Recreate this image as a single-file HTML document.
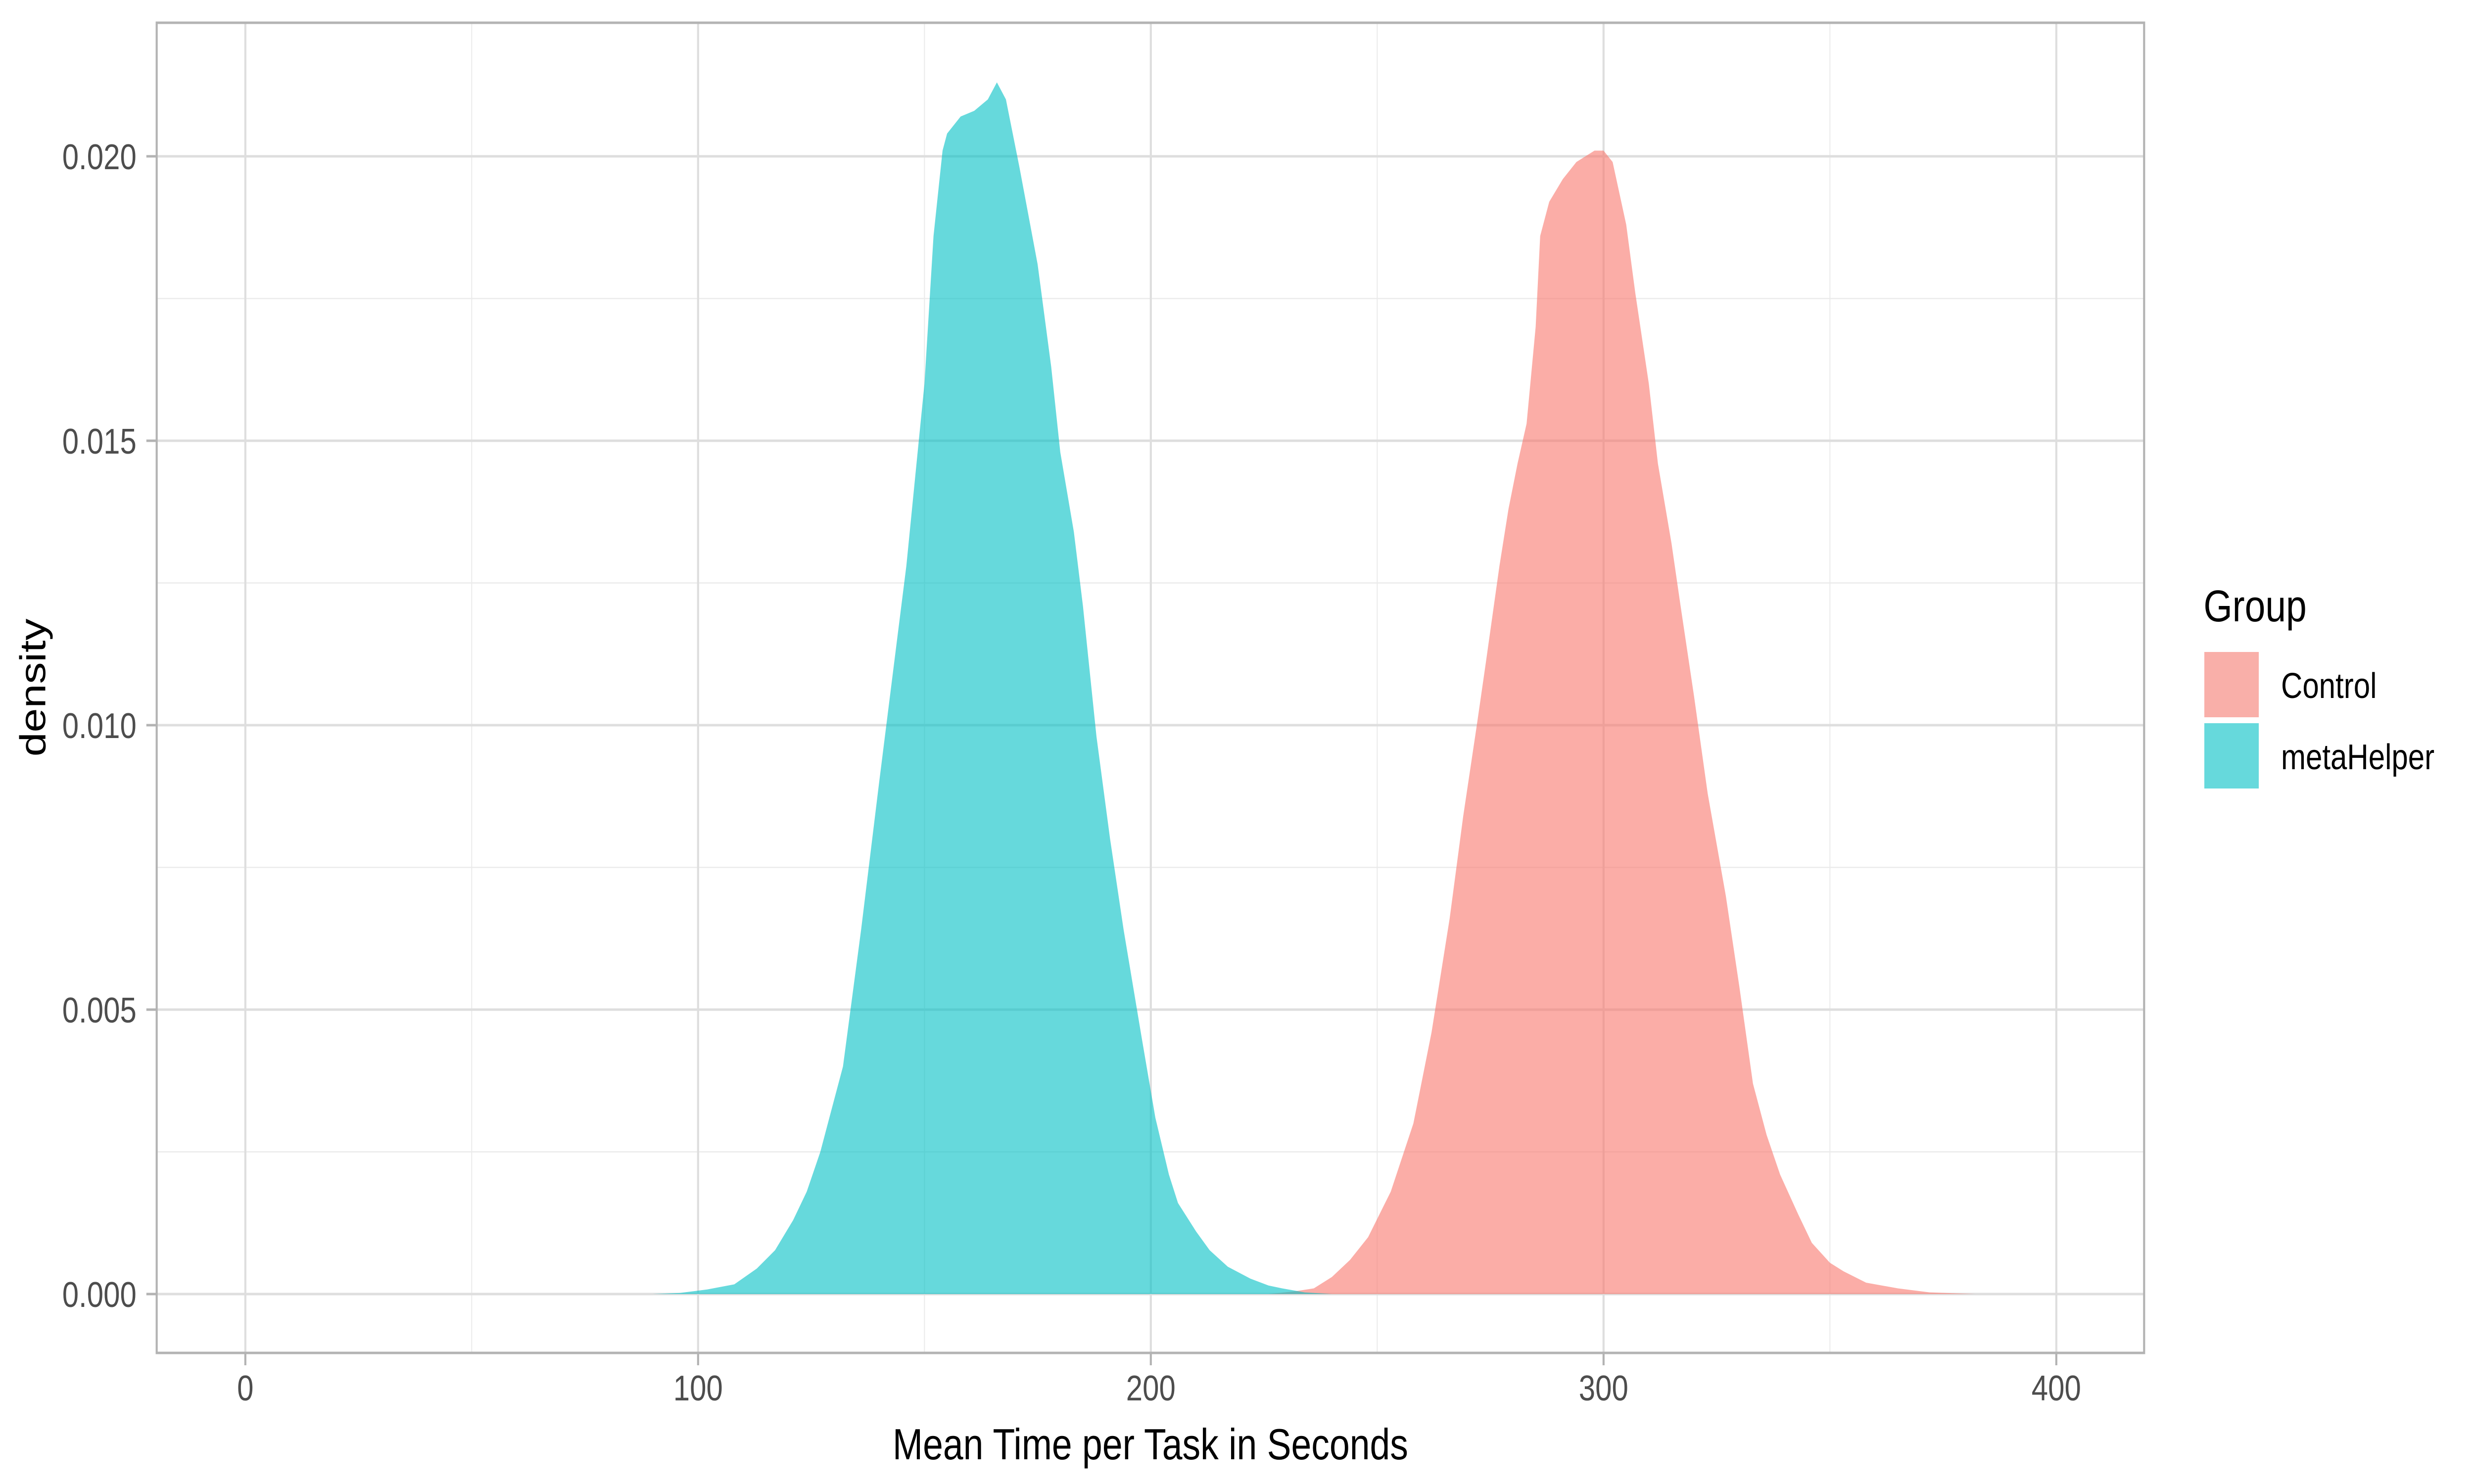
<!DOCTYPE html>
<html><head><meta charset="utf-8"><style>
html,body{margin:0;padding:0;background:#fff;width:100%;height:100%;overflow:hidden}
svg{display:block;width:100vw;height:100vh}
text{font-family:"Liberation Sans",Arial,sans-serif}
</style></head>
<body>
<svg id="chart" xmlns="http://www.w3.org/2000/svg" viewBox="0 0 6000 3000" preserveAspectRatio="none">
<rect x="0" y="0" width="6000" height="3000" fill="#fff"/>
<g id="grid"></g>
<g id="series"></g>
<rect x="380" y="46" width="4820" height="2689" fill="none" stroke="#b3b3b3" stroke-width="5"/>
<g id="axes"></g>
<text x="2790" y="2950" font-size="88" text-anchor="middle" fill="#000">Mean Time per Task in Seconds</text>
<text x="0" y="0" font-size="88" text-anchor="middle" fill="#000" transform="translate(110,1390) rotate(-90)">density</text>
<g>
<text x="5344" y="1256" font-size="90" fill="#000">Group</text>
<rect x="5346" y="1318" width="132" height="132" fill="#f9afa9"/>
<text x="5532" y="1411" font-size="72" fill="#000">Control</text>
<rect x="5346" y="1462" width="132" height="132" fill="#66d9dc"/>
<text x="5532" y="1555" font-size="72" fill="#000">metaHelper</text>
</g>
</svg>
<script>
const xTicks = [0, 100, 200, 300, 400];
const xMinor = [50, 150, 250, 350];
const yTicks = [0, 0.005, 0.010, 0.015, 0.020];
const yTickLabels = ["0.000", "0.005", "0.010", "0.015", "0.020"];
const yMinor = [0.0025, 0.0075, 0.0125, 0.0175];
const metaX = [90, 96, 102, 108, 113, 117, 121, 124, 127, 129, 132, 136, 140, 143, 146, 148, 150, 152, 154, 155, 158, 161, 164, 166, 168, 171, 175, 178, 180, 183, 185, 188, 191, 194, 198, 201, 204, 206, 210, 213, 217, 222, 226, 229, 234, 240];
const metaY = [0, 0.00002, 0.00008, 0.00017, 0.00045, 0.00077, 0.0013, 0.0018, 0.0025, 0.0031, 0.0040, 0.0064, 0.0090, 0.0109, 0.0128, 0.0144, 0.0160, 0.0186, 0.0201, 0.0204, 0.0207, 0.0208, 0.0210, 0.0213, 0.0210, 0.0198, 0.0181, 0.0163, 0.0148, 0.0134, 0.0121, 0.0098, 0.0080, 0.0064, 0.0045, 0.0031, 0.0021, 0.0016, 0.0011, 0.00077, 0.00048, 0.00027, 0.00015, 0.0001, 0.00003, 0];
const ctrlX = [226, 232, 236, 240, 244, 248, 253, 258, 262, 266, 269, 272, 274, 277, 279, 281, 283, 285, 286, 288, 291, 294, 298, 300, 302, 305, 307, 310, 312, 315, 317, 320, 323, 327, 330, 333, 336, 339, 343, 346, 350, 353, 358, 365, 372, 382];
const ctrlY = [0, 0.00005, 0.0001, 0.0003, 0.0006, 0.0010, 0.0018, 0.0030, 0.0046, 0.0066, 0.0084, 0.0100, 0.0111, 0.0128, 0.0138, 0.0146, 0.0153, 0.0170, 0.0186, 0.0192, 0.0196, 0.0199, 0.0201, 0.0201, 0.0199, 0.0188, 0.0176, 0.0160, 0.0146, 0.0132, 0.0121, 0.0105, 0.0088, 0.0070, 0.0054, 0.0037, 0.0028, 0.0021, 0.0014, 0.0009, 0.00055, 0.0004, 0.0002, 0.0001, 0.00003, 0];

const NS = "http://www.w3.org/2000/svg";
const PL = 380, PR = 5200, PT = 46, PB = 2735;
function xs(v){ return 595 + v * 10.98; }
function ys(v){ return 2616 - v * 115000; }
function mk(tag, attrs, parent){
  const e = document.createElementNS(NS, tag);
  for (const k in attrs) e.setAttribute(k, attrs[k]);
  parent.appendChild(e);
  return e;
}
const grid = document.getElementById('grid');
const axes = document.getElementById('axes');
xMinor.forEach(v => {
  const l = mk('line', {x1: xs(v), x2: xs(v), y1: PT, y2: PB, stroke: '#ebebeb', 'stroke-width': 2.5}, grid);
  
  
});
yMinor.forEach(v => {
  const l = mk('line', {x1: PL, x2: PR, y1: ys(v), y2: ys(v), stroke: '#ebebeb', 'stroke-width': 2.5}, grid);
  
  
});
xTicks.forEach(v => {
  const l = mk('line', {x1: xs(v), x2: xs(v), y1: PT, y2: PB, stroke: '#dedede', 'stroke-width': 5}, grid);
  
  
  const t = mk('line', {x1: xs(v), x2: xs(v), y1: PB, y2: PB + 25, stroke: '#b3b3b3', 'stroke-width': 5}, axes);
  
  
  const tx = mk('text', {x: xs(v), y: 2831, 'font-size': 72, fill: '#4d4d4d', 'text-anchor': 'middle'}, axes);
  tx.textContent = String(v);
  
  
});
yTicks.forEach((v, i) => {
  const l = mk('line', {x1: PL, x2: PR, y1: ys(v), y2: ys(v), stroke: '#dedede', 'stroke-width': 5}, grid);
  
  
  const t = mk('line', {x1: PL - 25, x2: PL, y1: ys(v), y2: ys(v), stroke: '#b3b3b3', 'stroke-width': 5}, axes);
  
  
  const tx = mk('text', {x: 331, y: ys(v) + 26, 'font-size': 72, fill: '#4d4d4d', 'text-anchor': 'end'}, axes);
  tx.textContent = yTickLabels[i];
  
  
});
const series = document.getElementById('series');
function area(X, Y){
  let d = 'M' + xs(X[0]) + ',' + ys(0);
  for (let i = 0; i < X.length; i++) d += ' L' + xs(X[i]).toFixed(1) + ',' + ys(Y[i]).toFixed(1);
  d += ' L' + xs(X[X.length - 1]) + ',' + ys(0) + ' Z';
  return d;
}
const pc = mk('path', {d: area(ctrlX, ctrlY), fill: '#F8766D', 'fill-opacity': 0.6}, series);


const pm = mk('path', {d: area(metaX, metaY), fill: '#00BFC4', 'fill-opacity': 0.6}, series);


</script>
</body></html>
